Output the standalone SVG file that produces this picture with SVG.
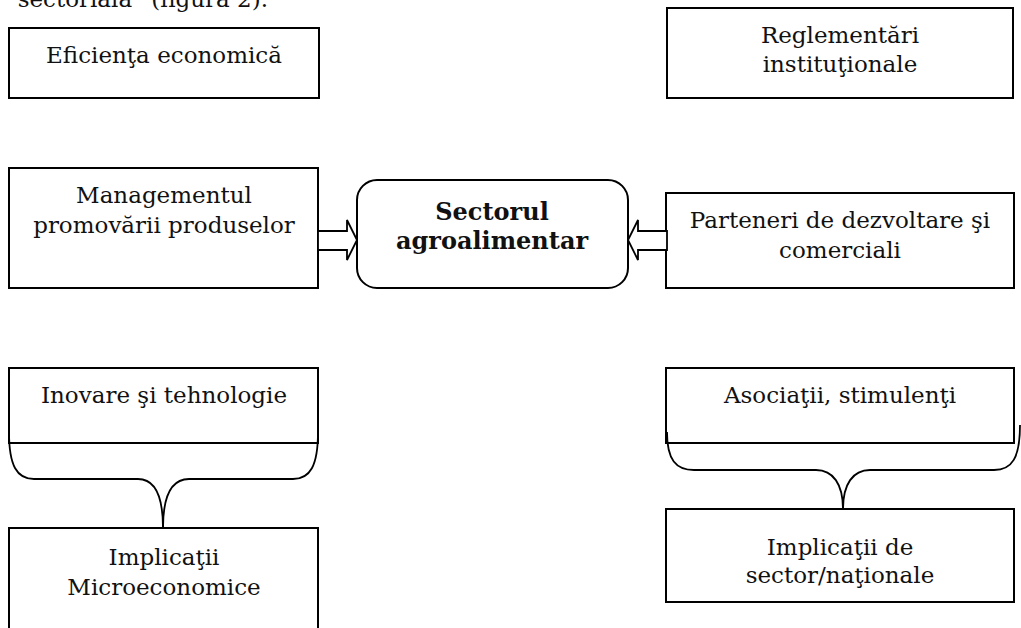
<svg xmlns="http://www.w3.org/2000/svg" width="1021" height="628" viewBox="0 0 1021 628">
<style>
.box{fill:#fff;stroke:#000;stroke-width:2}
.t{font-family:"DejaVu Serif","Liberation Serif",serif;font-size:23px;fill:#111;text-anchor:middle}
.b{font-weight:bold;font-size:24px}
.arr{fill:#fff;stroke:#000;stroke-width:1.8;stroke-linejoin:miter}
.brace{fill:none;stroke:#000;stroke-width:1.8}
</style>
<rect width="1021" height="628" fill="#fff"/>
<text class="t" x="268" y="7" style="text-anchor:end">sectorială” (figura 2).</text>

<g id="n-eficienta">
<rect class="box" x="9" y="28" width="310" height="70"/>
<text class="t" x="164" y="63">Eficienţa economică</text>
</g>
<g id="n-reglementari">
<rect class="box" x="667" y="8" width="346" height="90"/>
<text class="t" x="840" y="43">Reglementări</text>
<text class="t" x="840" y="72">instituţionale</text>
</g>
<g id="n-management">
<rect class="box" x="9" y="168" width="309" height="120"/>
<text class="t" x="164" y="203">Managementul</text>
<text class="t" x="164" y="233">promovării produselor</text>
</g>
<g id="n-sector">
<rect class="box" x="357" y="180" width="271" height="108" rx="20" ry="20"/>
<text class="t b" x="492" y="220">Sectorul</text>
<text class="t b" x="492" y="249">agroalimentar</text>
</g>
<g id="n-parteneri">
<rect class="box" x="666" y="193" width="348" height="95"/>
<text class="t" x="840" y="228">Parteneri de dezvoltare şi</text>
<text class="t" x="840" y="258">comerciali</text>
</g>
<g id="n-inovare">
<rect class="box" x="9" y="368" width="309" height="75"/>
<text class="t" x="164" y="403">Inovare şi tehnologie</text>
</g>
<g id="n-asociatii">
<rect class="box" x="666" y="368" width="348" height="75"/>
<text class="t" x="840" y="403">Asociaţii, stimulenţi</text>
</g>
<g id="n-micro">
<path class="box" d="M9 640 L9 528 L318 528 L318 640"/>
<text class="t" x="164" y="565">Implicaţii</text>
<text class="t" x="164" y="595">Microeconomice</text>
</g>
<g id="n-national">
<rect class="box" x="666" y="509" width="348" height="93"/>
<text class="t" x="840" y="555">Implicaţii de</text>
<text class="t" x="840" y="583">sector/naţionale</text>
</g>

<g id="connectors">
<polygon class="arr" points="318,231 347,231 347,220 357,240 347,260 347,250 318,250"/>
<polygon class="arr" points="667,231 638,231 638,220 628,240 638,260 638,250 667,250"/>
<path class="brace" d="M9 432 C9 466 17 479 34 479 L138 479 C155 479 163 496 163 528"/>
<path class="brace" d="M318 432 C318 466 310 479 293 479 L189 479 C172 479 163 496 163 528"/>
<path class="brace" d="M667 432 C667 460 676 470 694 470 L816 470 C833 470 843 484 843 509"/>
<path class="brace" d="M1020 425 C1020 458 1012 470 994 470 L870 470 C853 470 843 484 843 509"/>
</g>
</svg>
